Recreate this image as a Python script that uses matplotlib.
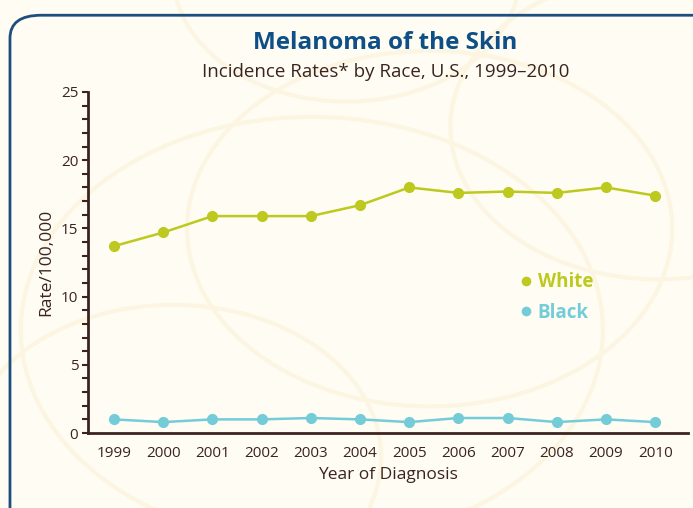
import matplotlib.pyplot as plt
from matplotlib.patches import FancyBboxPatch, Circle
from matplotlib.ticker import MultipleLocator

years = [1999, 2000, 2001, 2002, 2003, 2004, 2005, 2006, 2007, 2008, 2009, 2010]
white = [13.7, 14.7, 15.9, 15.9, 15.9, 16.7, 18.0, 17.6, 17.7, 17.6, 18.0, 17.4]
black = [1.0, 0.8, 1.0, 1.0, 1.1, 1.0, 0.8, 1.1, 1.1, 0.8, 1.0, 0.8]

bg = '#FEFCF3'
brown = '#3B2420'
lime = '#BDC91E'
cyan = '#74CCD9'
navy = '#0E4F87'

plt.rcParams['font.family'] = ['Open Sans', 'DejaVu Sans']

my_dpi = 100
fig = plt.figure(figsize=(693/my_dpi, 508/my_dpi), dpi=my_dpi, facecolor=bg)

# faint decorative circles in the background
for cx, cy, r in [(0.45, 0.35, 0.42), (0.62, 0.55, 0.35), (0.25, 0.1, 0.3), (0.95, 0.75, 0.3), (0.5, 1.05, 0.25)]:
    fig.add_artist(Circle((cx, cy), r, transform=fig.transFigure, fill=False,
                          edgecolor='#FCF5E2', lw=3, zorder=0))

# rounded frame
frame = FancyBboxPatch((0.0544, -0.2), 1.2, 1.13, transform=fig.transFigure,
                       boxstyle='round,pad=0.04,rounding_size=0.045', fill=False,
                       edgecolor='#1D4E7E', lw=2, zorder=1)
fig.add_artist(frame)

ax = fig.add_axes([0.127, 0.1476, 0.866, 0.6714])
ax.set_facecolor('none')

ax.plot(years, white, color=lime, lw=1.8, marker='o', ms=7, label='White')
ax.plot(years, black, color=cyan, lw=1.8, marker='o', ms=7, label='Black')

ax.set_xlim(1998.47, 2010.67)
ax.set_ylim(0, 25)
ax.set_xticks(years)
ax.yaxis.set_major_locator(MultipleLocator(5))
ax.yaxis.set_minor_locator(MultipleLocator(1))

for s in ['top', 'right']:
    ax.spines[s].set_visible(False)
for s in ['left', 'bottom']:
    ax.spines[s].set_color(brown)
    ax.spines[s].set_linewidth(2)

ax.tick_params(axis='y', which='both', length=4, width=1.5, color=brown,
               labelsize=11, labelcolor=brown, pad=3)
ax.tick_params(axis='x', length=0, labelsize=11, labelcolor=brown, pad=9)

ax.set_ylabel('Rate/100,000', fontsize=12.5, color=brown, labelpad=5)
ax.set_xlabel('Year of Diagnosis', fontsize=12.5, color=brown, labelpad=5)

leg = ax.legend(loc='center left', bbox_to_anchor=(0.715, 0.397), frameon=False,
                handlelength=0, handletextpad=0.6, labelspacing=0.55,
                prop={'weight': 'bold', 'size': 13.5}, labelcolor='linecolor',
                markerscale=0.85, borderpad=0)

fig.text(0.556, 0.915, 'Melanoma of the Skin', ha='center', va='center',
         fontsize=17.5, fontweight='bold', color=navy)
fig.text(0.556, 0.858, 'Incidence Rates* by Race, U.S., 1999\u20132010', ha='center',
         va='center', fontsize=13.5, color=brown)

plt.savefig('out.png', dpi=my_dpi, facecolor=bg)
